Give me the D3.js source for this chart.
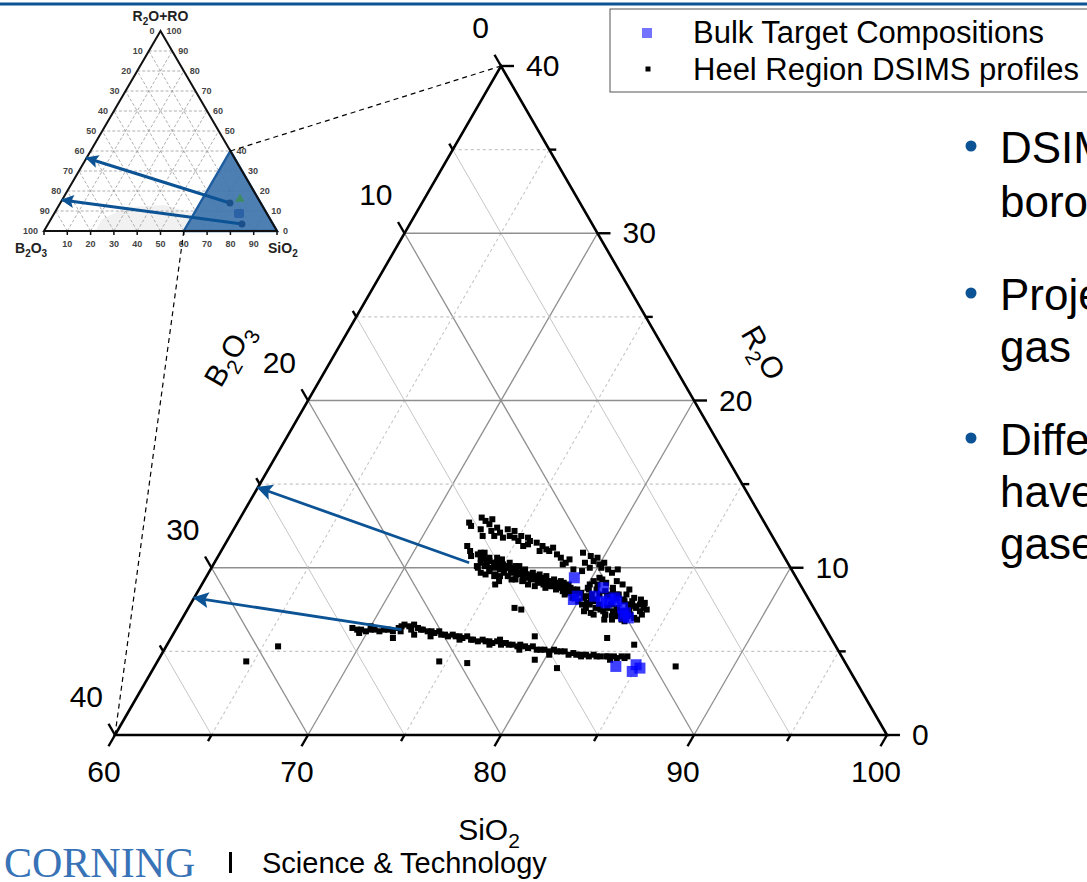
<!DOCTYPE html>
<html>
<head>
<meta charset="utf-8">
<script src="https://cdn.jsdelivr.net/npm/d3@7"></script>
<style>
html, body { margin: 0; padding: 0; background: #fff; overflow: hidden; }
svg { display: block; font-family: Arial, "Liberation Sans", sans-serif; }
</style>
</head>
<body>
<svg id="chart" width="1087" height="882"></svg>
<script>
// ---- data (compositions in wt%: [SiO2, R2O], B2O3 = 100 - SiO2 - R2O) ----
var sio2Ticks = [60, 70, 80, 90, 100];
var b2o3Ticks = [0, 10, 20, 30, 40];
var r2oTicks = [0, 10, 20, 30, 40];
var gridSteps = [5, 10, 15, 20, 25, 30, 35];
var tickSteps = [0, 5, 10, 15, 20, 25, 30, 35, 40];

// upper band (sparse top strip + dense band + cluster)
var heelUpper = [
  [72.0,12.7],[72.2,12.5],[72.5,13.0],[72.8,12.8],[73.1,12.9],[73.1,12.6],[72.8,12.3],[73.1,11.9],[73.4,12.2],[73.6,12.4],
  [73.9,12.1],[73.7,11.9],[74.2,12.3],[74.2,11.8],[74.5,11.9],[74.6,12.2],[74.8,11.8],[75.1,11.6],[75.1,11.9],[75.5,11.8],
  [75.7,11.6],[75.5,11.3],[75.7,11.4],[76.1,11.5],[76.5,11.3],[76.8,11.1],[77.0,11.0],[77.1,11.2],[76.5,11.0],[77.5,10.8],
  [77.8,10.6],[78.2,10.3],[78.3,10.5],[78.1,10.2],[78.8,9.9],[78.8,10.9],[79.2,10.3],[79.3,10.7],[79.6,10.4],[79.7,10.6],
  [80.0,10.2],[80.2,10.0],[80.2,10.3],[80.6,9.9],[80.9,9.7],[81.1,9.9],[79.6,10.0],[79.3,9.8],
  [72.6,11.3],[72.9,11.0],[73.4,10.8],[73.5,10.9],[73.8,10.6],[73.8,10.3],[73.8,10.0],[74.2,10.1],[74.2,10.4],[74.5,9.8],
  [74.6,10.1],[74.9,9.6],[74.6,10.3],[75.0,9.9],[75.0,10.2],[75.3,9.7],[75.3,10.0],[75.6,9.8],[75.6,9.5],[75.7,9.9],
  [76.0,9.6],[76.1,9.3],[76.2,9.7],[76.4,9.5],[76.5,9.2],[76.5,9.6],[76.9,9.3],[76.9,9.0],[77.0,9.4],[77.3,9.2],
  [77.3,8.9],[77.4,9.3],[77.7,9.0],[77.8,9.2],[77.9,8.8],[78.1,8.9],[78.2,9.1],[78.5,8.7],[78.5,8.9],[78.9,8.6],
  [78.8,8.9],[79.1,8.7],[79.1,8.4],[79.3,8.5],[79.4,8.7],[79.6,8.2],[79.7,8.4],[79.9,8.5],[80.0,8.0],[80.2,8.2],
  [80.3,8.3],[80.3,7.8],[80.6,7.6],[80.7,7.8],[80.8,8.0],[80.9,8.1],[81.1,7.6],[81.2,7.8],[81.6,7.4],[81.7,7.6],
  [81.8,7.2],[81.8,7.8],[82.1,7.4],[82.2,7.6],[82.4,7.1],[82.6,7.2],[82.7,7.4],[83.0,7.1],[83.1,7.2],[83.4,7.0],
  [83.2,7.6],[82.8,7.8],[82.4,8.0],[82.3,8.4],[82.3,8.7],[81.8,9.0],[81.4,9.2],[81.4,8.8],[80.9,9.1],[80.6,9.3],
  [80.5,9.0],[80.4,9.4],[80.2,9.2],[80.1,9.0],[80.1,8.8],[81.3,8.4],[81.8,8.4],[82.8,8.2],[83.3,7.8],[83.6,7.6],
  [83.8,7.5],[83.7,7.2],[83.6,6.9],[82.8,6.9],[82.3,6.9],[81.9,6.9],[80.6,7.4],[81.0,7.3],[81.2,7.2],[75.2,9.0],
  [74.9,9.5],[75.3,9.2],[74.4,9.6],[74.1,9.7],[73.7,10.1],[73.1,10.7],
  [73.7,10.7],[74.1,10.3],[74.1,10.6],[74.5,10.3],[74.8,10.0],[74.8,10.5],[75.2,10.1],[75.3,10.3],[75.5,10.0],[75.9,9.8],
  [75.9,10.1],[76.2,9.8],[76.3,9.9],[76.7,9.6],[76.8,9.7],[77.1,9.5],[77.2,9.6],[77.5,9.4],[77.6,9.5],[78.0,9.2],
  [78.1,9.3],[78.4,9.1],[78.5,9.2],[78.9,8.9],[79.0,9.0],[74.5,9.8],[75.2,9.5],[75.9,9.3],[76.5,9.3],[77.4,9.1],
  [73.7,10.9],[74.5,10.6],
  [73.7,10.5],[74.1,10.1],[74.1,10.5],[74.5,10.0],[74.7,10.2],[74.8,10.3],[75.2,9.9],[75.4,10.0],[75.7,9.7],[75.7,10.1],
  [76.2,9.6],[76.3,9.7],[76.7,9.4],[76.9,9.4],[77.2,9.3],[77.4,9.3],[77.7,9.1],[77.9,9.1],[78.2,8.9],[78.4,9.0],
  [78.7,8.8],[78.7,9.1],[79.2,8.8],[79.5,8.6],[79.6,8.7],
  [80.2,8.7],[80.5,8.4],[80.6,8.7],[80.9,8.4],[81.1,8.6],[81.4,8.3],[81.5,8.6],[81.9,8.2],[81.9,8.4],[82.3,8.1],
  [82.7,7.8],[82.8,8.0],[83.1,7.7],[81.4,7.5],[81.8,7.2],[82.2,7.1],[82.4,7.4],[83.0,6.8],[80.6,8.1],[83.2,8.1],
  [83.5,7.9],[80.5,7.9],[83.5,7.4],[82.9,7.5]
];

// lower band
var heelLower = [
  [69.1,6.4],[69.4,6.3],[69.6,6.3],[69.9,6.2],[70.1,6.3],[70.3,6.3],[70.6,6.2],[70.8,6.3],[71.0,6.3],[71.3,6.2],
  [71.5,6.4],[71.6,6.5],[71.7,6.6],[72.0,6.5],[72.2,6.3],[72.2,6.6],[72.5,6.4],[72.7,6.3],[72.8,6.3],[73.1,6.2],
  [73.3,6.2],[73.5,6.1],[73.7,6.2],[73.9,6.0],[74.1,6.0],[74.3,5.9],[74.5,6.0],[74.7,5.9],[74.9,5.9],[75.1,5.8],
  [75.3,5.9],[75.6,5.7],[75.7,5.7],[76.0,5.6],[76.2,5.7],[76.4,5.6],[76.6,5.6],[76.8,5.5],[77.0,5.6],[77.3,5.4],
  [77.5,5.5],[77.7,5.4],[77.9,5.4],[78.2,5.3],[78.3,5.4],[78.6,5.3],[78.8,5.2],[79.0,5.3],[79.3,5.1],[79.5,5.1],
  [79.7,5.1],[80.0,5.0],[80.2,5.1],[80.4,5.0],[80.6,5.0],[80.8,5.0],[81.1,4.8],[81.3,4.9],[81.5,4.8],[81.7,4.8],
  [82.0,4.8],[82.2,4.7],[82.4,4.8],[82.6,4.7],[82.8,4.7],[83.1,4.7],[83.2,4.7],[83.5,4.7],[83.7,4.6],[83.9,4.7],
  [84.1,4.6],[84.2,4.7],[69.6,6.1],[71.7,6.2],[73.4,5.9],[75.0,5.7],[76.7,5.4],[78.4,5.1],[80.1,4.8],[81.8,4.7],
  [83.4,4.5],[72.5,6.0],[70.0,6.5],[77.1,5.7]
];

// scattered single points
var heelOutliers = [
  [76.9,7.6],[77.3,7.5],[71.5,5.8],[74.6,4.4],[76.1,4.3],[78.8,5.9],[79.5,4.5],[80.9,4.0],[82.6,5.8],[84.2,5.4],
  [87.0,4.1],[64.6,4.4],[65.8,5.3]
];

var bulkTargets = [
  [79.1,9.4],[79.8,8.3],[79.7,8.1],[80.9,8.8],[80.7,8.3],[81.6,8.1],[82.0,8.0],[82.5,7.6],[82.8,7.3],[83.1,7.0],
  [81.2,8.0],[81.5,7.9],[81.8,8.2],[82.8,7.1],[83.9,4.1],[84.9,4.2],[84.9,3.8],[85.2,4.0]
];

// arrows: [fromSiO2, fromR2O, toSiO2, toR2O]
var mainArrows = [[73.2, 10.3, 60, 14.8], [71.7, 6.3, 60, 8.2]];
var insetArrows = [[72.8, 14, 0, 36.5], [83.2, 3.5, 0, 15.5]];
var insetMarks = [[76.1, 16, "tri"], [79.2, 9, "sq"]];

var legendLabels = ["Bulk Target Compositions", "Heel Region DSIMS profiles"];
var bulletLines = [["DSIMS profiles", "borosilicate"], ["Projected", "gas"], ["Different", "have", "gases"]];

var blue = "#0b5394";

var svg = d3.select("#chart");

// header rule
svg.append("line").attr("x1", 0).attr("x2", 1087).attr("y1", 4).attr("y2", 4)
    .attr("stroke", blue).attr("stroke-width", 3);

// ---- main ternary scales ----
var x = d3.scaleLinear().domain([60, 100]).range([115, 887]);
var y = d3.scaleLinear().domain([0, 40]).range([735, 66]);
function P(s, r) { return [x(s) + (x(60 + r) - x(60)) / 2, y(r)]; }

var defs = svg.append("defs");
function addHead(id, w, h) {
  defs.append("marker").attr("id", id)
      .attr("viewBox", "0 0 10 10").attr("refX", 9).attr("refY", 5)
      .attr("markerUnits", "userSpaceOnUse")
      .attr("markerWidth", w).attr("markerHeight", h)
      .attr("orient", "auto")
      .append("path").attr("d", "M0,0 L10,5 L0,10 L2,5 Z").attr("fill", blue);
}
addHead("headMain", 19, 16);
addHead("headInset", 15, 13);

// grid
var grid = svg.append("g");
function seg(g, a, b) {
  return g.append("line").attr("x1", a[0]).attr("y1", a[1]).attr("x2", b[0]).attr("y2", b[1]);
}
gridSteps.forEach(function (v) {
  var major = v % 10 === 0;
  // R2O = v (horizontal)
  var l1 = seg(grid, P(60, v), P(100 - v, v));
  // SiO2 = 60 + v
  var l2 = seg(grid, P(60 + v, 0), P(60 + v, 40 - v));
  // B2O3 = v
  var l3 = seg(grid, P(100 - v, 0), P(60, 40 - v));
  [l1, l2, l3].forEach(function (l, i) {
    if (major) l.attr("stroke", "#8f8f8f").attr("stroke-width", 1.3);
    else if (i === 2) l.attr("stroke", "#c6c6c6").attr("stroke-width", 1);
    else l.attr("stroke", "#c6c6c6").attr("stroke-width", 1.1).attr("stroke-dasharray", "3,3");
  });
});

// triangle frame
var frame = [P(60, 0), P(100, 0), P(60, 40)];
svg.append("path").attr("d", d3.line()(frame) + "Z")
    .attr("fill", "none").attr("stroke", "#000").attr("stroke-width", 2.6)
    .attr("stroke-linejoin", "miter");

// ticks
var ticks = svg.append("g").attr("stroke", "#000").attr("stroke-width", 2.4);
var c60 = Math.cos(Math.PI / 3), s60 = Math.sin(Math.PI / 3);
tickSteps.forEach(function (v) {
  var len = v % 10 === 0 ? 13 : 7;
  var a = P(60 + v, 0);                       // SiO2 axis
  seg(ticks, a, [a[0] - c60 * len, a[1] + s60 * len]);
  var b = P(60, 40 - v);                      // B2O3 axis
  seg(ticks, b, [b[0] - c60 * len, b[1] - s60 * len]);
  var c = P(100 - v, v);                      // R2O axis
  seg(ticks, c, [c[0] + len, c[1]]);
});

// tick labels
var lab = svg.append("g").attr("font-size", 30).attr("fill", "#000");
sio2Ticks.forEach(function (v) {
  var p = P(v, 0);
  lab.append("text").attr("x", p[0] - 11).attr("y", p[1] + 47)
      .attr("text-anchor", "middle").text(v);
});
b2o3Ticks.forEach(function (v) {
  var p = P(60, 40 - v);
  lab.append("text").attr("x", p[0] - 12).attr("y", p[1] - 28)
      .attr("text-anchor", "end").text(v);
});
r2oTicks.forEach(function (v) {
  var p = P(100 - v, v);
  lab.append("text").attr("x", p[0] + 25).attr("y", p[1] + 10)
      .attr("text-anchor", "start").text(v);
});

// axis titles
var tS = svg.append("text").attr("x", x(80) - 12).attr("y", 840)
    .attr("text-anchor", "middle").attr("font-size", 30);
tS.append("tspan").text("SiO");
tS.append("tspan").attr("font-size", 21).attr("dy", 8).text("2");

var mB = P(60, 20);
var tB = svg.append("text")
    .attr("transform", "translate(" + (mB[0] - 80) + "," + (mB[1] - 46) + ") rotate(-60)")
    .attr("text-anchor", "middle").attr("y", 11).attr("font-size", 30);
tB.append("tspan").text("B");
tB.append("tspan").attr("font-size", 21).attr("dy", 8).text("2");
tB.append("tspan").attr("dy", -8).text("O");
tB.append("tspan").attr("font-size", 21).attr("dy", 8).text("3");

var mR = P(80, 20);
var tR = svg.append("text")
    .attr("transform", "translate(" + (mR[0] + 70) + "," + (mR[1] - 48) + ") rotate(60)")
    .attr("text-anchor", "middle").attr("y", 11).attr("font-size", 30);
tR.append("tspan").text("R");
tR.append("tspan").attr("font-size", 21).attr("dy", 8).text("2");
tR.append("tspan").attr("dy", -8).text("O");

// data points
var heel = heelUpper.concat(heelLower, heelOutliers);
var hs = 6;
svg.append("g").selectAll("rect").data(heel).enter().append("rect")
    .attr("x", function (d) { return P(d[0], d[1])[0] - hs / 2; })
    .attr("y", function (d) { return P(d[0], d[1])[1] - hs / 2; })
    .attr("width", hs).attr("height", hs).attr("fill", "#000");

var bs = 11;
svg.append("g").selectAll("rect").data(bulkTargets).enter().append("rect")
    .attr("x", function (d) { return P(d[0], d[1])[0] - bs / 2; })
    .attr("y", function (d) { return P(d[0], d[1])[1] - bs / 2; })
    .attr("width", bs).attr("height", bs)
    .attr("fill", "#0000ff").attr("fill-opacity", 0.75);

// arrows on main plot
mainArrows.forEach(function (a) {
  seg(svg, P(a[0], a[1]), P(a[2], a[3]))
      .attr("stroke", blue).attr("stroke-width", 2.8)
      .attr("marker-end", "url(#headMain)");
});

// ---- inset full ternary ----
var ix = d3.scaleLinear().domain([0, 100]).range([44, 277]);
var iy = d3.scaleLinear().domain([0, 100]).range([231, 31]);
function Q(s, r) { return [ix(s) + (ix(r) - ix(0)) / 2, iy(r)]; }

var inset = svg.append("g");
inset.append("path")
    .attr("d", d3.line()([Q(22, 0), Q(60, 0), Q(59, 9), Q(45, 13), Q(30, 12), Q(22, 6)]) + "Z")
    .attr("fill", "#f1f1f1");
d3.range(10, 100, 10).forEach(function (v) {
  seg(inset, Q(0, v), Q(100 - v, v));
  seg(inset, Q(v, 0), Q(v, 100 - v));
  seg(inset, Q(100 - v, 0), Q(0, 100 - v));
});
inset.selectAll("line").attr("stroke", "#9a9a9a").attr("stroke-width", 0.8)
    .attr("stroke-dasharray", "3,2");

inset.append("path").attr("d", d3.line()([Q(60, 0), Q(100, 0), Q(60, 40)]) + "Z")
    .attr("fill", "#3f74ad").attr("fill-opacity", 0.92)
    .attr("stroke", "#1d5c9e").attr("stroke-width", 2.4);

inset.append("path").attr("d", d3.line()([Q(0, 0), Q(100, 0), Q(0, 100)]) + "Z")
    .attr("fill", "none").attr("stroke", "#111").attr("stroke-width", 2);

d3.range(0, 101, 10).forEach(function (v) {
  var p = Q(v, 0);
  seg(inset, p, [p[0], p[1] + 4]).attr("stroke", "#111").attr("stroke-width", 1.5);
});

var il = inset.append("g").attr("font-size", 9).attr("font-weight", "bold").attr("fill", "#444");
d3.range(10, 100, 10).forEach(function (v) {
  var p = Q(v, 0);
  il.append("text").attr("x", p[0]).attr("y", p[1] + 16).attr("text-anchor", "middle").text(v);
});
d3.range(0, 101, 10).forEach(function (v) {
  var p = Q(0, 100 - v);
  il.append("text").attr("x", p[0] - 6).attr("y", p[1] + 3).attr("text-anchor", "end").text(v);
  var q = Q(100 - v, v);
  il.append("text").attr("x", q[0] + 6).attr("y", q[1] + 3).attr("text-anchor", "start").text(v);
});

var it = inset.append("g").attr("font-size", 14).attr("font-weight", "bold").attr("fill", "#222");
var t1 = it.append("text").attr("x", Q(0, 100)[0]).attr("y", 21).attr("text-anchor", "middle");
t1.append("tspan").text("R");
t1.append("tspan").attr("font-size", 10).attr("dy", 4).text("2");
t1.append("tspan").attr("dy", -4).text("O+RO");
var t2 = it.append("text").attr("x", 15).attr("y", 253);
t2.append("tspan").text("B");
t2.append("tspan").attr("font-size", 10).attr("dy", 4).text("2");
t2.append("tspan").attr("dy", -4).text("O");
t2.append("tspan").attr("font-size", 10).attr("dy", 4).text("3");
var t3 = it.append("text").attr("x", 268).attr("y", 253);
t3.append("tspan").text("SiO");
t3.append("tspan").attr("font-size", 10).attr("dy", 4).text("2");

insetMarks.forEach(function (m) {
  var p = Q(m[0], m[1]);
  if (m[2] === "tri") {
    inset.append("path").attr("d", d3.symbol(d3.symbolTriangle, 40)())
        .attr("transform", "translate(" + p[0] + "," + p[1] + ")").attr("fill", "#3d8a63");
  } else {
    inset.append("rect").attr("x", p[0] - 5).attr("y", p[1] - 4).attr("width", 10).attr("height", 9)
        .attr("rx", 2).attr("fill", "#2b62a6");
  }
});

insetArrows.forEach(function (a) {
  var p = Q(a[0], a[1]);
  seg(inset, p, Q(a[2], a[3]))
      .attr("stroke", blue).attr("stroke-width", 3)
      .attr("marker-end", "url(#headInset)");
  inset.append("circle").attr("cx", p[0]).attr("cy", p[1]).attr("r", 3.5).attr("fill", "#1a4f8a");
});

// dashed zoom connectors between inset region and main triangle
[[60, 40], [60, 0]].forEach(function (c) {
  seg(svg, Q(c[0], c[1]), P(c[0], c[1]))
      .attr("stroke", "#000").attr("stroke-width", 1.2).attr("stroke-dasharray", "5,4");
});

// ---- legend ----
var lg = svg.append("g");
lg.append("rect").attr("x", 610).attr("y", 9).attr("width", 500).attr("height", 83)
    .attr("fill", "#fff").attr("stroke", "#555").attr("stroke-width", 1);
lg.append("rect").attr("x", 647 - 5).attr("y", 33 - 5).attr("width", 10).attr("height", 10)
    .attr("fill", "#0000ff").attr("fill-opacity", 0.55);
lg.append("rect").attr("x", 648 - 2.5).attr("y", 69 - 2.5).attr("width", 5).attr("height", 5)
    .attr("fill", "#000");
legendLabels.forEach(function (t, i) {
  lg.append("text").attr("x", 693).attr("y", 43 + i * 37).attr("font-size", 31).text(t);
});

// ---- bullet text (cut at slide edge) ----
var bulletY = [[163, 217], [310, 362], [455, 507, 559]];
bulletLines.forEach(function (lines, i) {
  svg.append("circle").attr("cx", 971).attr("cy", bulletY[i][0] - 17).attr("r", 5.5).attr("fill", blue);
  lines.forEach(function (t, j) {
    svg.append("text").attr("x", 1000).attr("y", bulletY[i][j]).attr("font-size", 44).text(t);
  });
});

// ---- footer ----
svg.append("text").attr("x", 4).attr("y", 877)
    .attr("font-family", "'Liberation Serif', 'Times New Roman', serif")
    .attr("font-size", 42).attr("fill", "#3773b6").text("CORNING");
svg.append("rect").attr("x", 229).attr("y", 852).attr("width", 3).attr("height", 21).attr("fill", "#000");
svg.append("text").attr("x", 262).attr("y", 873).attr("font-size", 29).text("Science & Technology");
</script>
</body>
</html>
